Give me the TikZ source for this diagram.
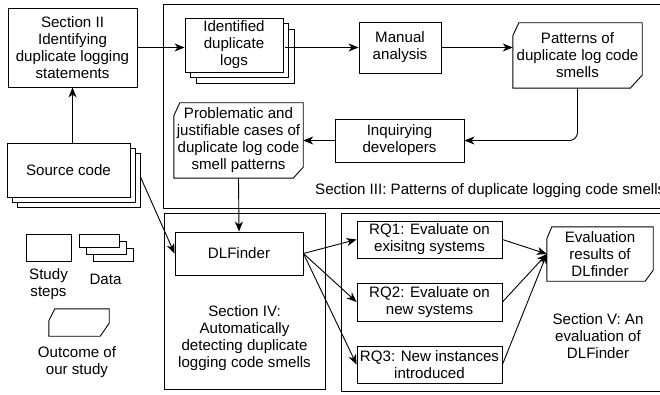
\documentclass[tikz,border=0pt]{standalone}
\usepackage{fontspec}
\setmainfont{Liberation Sans}
\usetikzlibrary{arrows.meta,shadows}
\newcommand\chbox[5]{\draw[line] ([yshift=-#3]#1.north west) -- ([xshift=#2]#1.north west) -- (#1.north east) -- ([yshift=#5]#1.south east) -- ([xshift=-#4]#1.south east) -- (#1.south west) -- cycle;}
\begin{document}
\begin{tikzpicture}[x=1pt,y=-1pt,
  every node/.style={font=\fontsize{15.1pt}{17pt}\selectfont, align=center, inner sep=0pt},
  line/.style={draw=black, line width=0.9pt},
  box/.style={line, fill=white, rectangle},
  stacktwo/.style={box, copy shadow={shadow xshift=2*#1, shadow yshift=-2*#1}, copy shadow={shadow xshift=#1, shadow yshift=-#1}},
  plain/.style={rectangle, draw=none},
  arr/.style={line, -{Stealth[length=10pt,width=8pt,inset=3pt]}},
  ]
\path[use as bounding box] (0,0) rectangle (660,395);
\clip (0,0) rectangle (660,395);

% containers
\node[box, minimum width=517pt, minimum height=204pt] (s3) at (421.5,106) {};
\node[box, minimum width=161pt, minimum height=176pt] (s4) at (244.5,301) {};
\node[box, minimum width=339pt, minimum height=178pt] (s5) at (510.5,302) {};

% container labels
\node[anchor=base west] (s3lab) at (315,195) {Section III: Patterns of duplicate logging code smells};
\node (s4lab) at (244.5,338) {Section IV:\\Automatically\\detecting duplicate\\logging code smells};
\node (s5lab) at (598,336.5) {Section V: An\\evaluation of\\DLFinder};

% main nodes
\node[box, minimum width=129pt, minimum height=79pt] (sec2) at (72.5,47.5) {Section II\\Identifying\\duplicate logging\\statements};
\node[stacktwo=5.5pt, minimum width=98pt, minimum height=54pt] (ident) at (234,45) {Identified\\duplicate\\logs};
\node[box, minimum width=82pt, minimum height=51pt] (manual) at (400,47.5) {Manual\\analysis};
\node[plain, minimum width=129pt, minimum height=65pt] (patt) at (577.5,55.5) {Patterns of\\duplicate log code\\smells};
\chbox{patt}{6pt}{13pt}{12pt}{13pt}
\node[box, minimum width=129pt, minimum height=43pt] (inq) at (399.5,140.5) {Inquirying\\developers};
\node[plain, minimum width=129pt, minimum height=75pt] (prob) at (238.5,140.5) {Problematic and\\justifiable cases of\\duplicate log code\\smell patterns};
\chbox{prob}{6pt}{13pt}{10pt}{11pt}
\node[stacktwo=5pt, minimum width=123pt, minimum height=54pt] (src) at (68.5,170) {Source code};
\node[box, minimum width=128pt, minimum height=43pt] (dlf) at (239,253.5) {DLFinder};
\node[box, minimum width=145pt, minimum height=37pt] (rq1) at (429.5,239.5) {RQ1: Evaluate on\\exisitng systems};
\node[box, minimum width=145pt, minimum height=38pt] (rq2) at (429.5,302) {RQ2: Evaluate on\\new systems};
\node[box, minimum width=145pt, minimum height=37pt] (rq3) at (429.5,364.5) {RQ3: New instances\\introduced};
\node[plain, minimum width=106pt, minimum height=54pt] (evalr) at (600,254) {Evaluation\\results of\\DLfinder};
\chbox{evalr}{5pt}{12pt}{8pt}{11pt}

% legend
\node[box, minimum width=45pt, minimum height=27pt] (lsteps) at (48.5,247.5) {};
\node[stacktwo=7pt, minimum width=40pt, minimum height=13pt] (ldata) at (99,240.5) {};
\node[plain, minimum width=60pt, minimum height=27pt] (lout) at (79,322.5) {};
\chbox{lout}{6pt}{12pt}{9pt}{13pt}
\node (lstepstxt) at (48.5,284) {Study\\steps};
\node (ldatatxt) at (105.5,279) {Data};
\node (louttxt) at (77,362) {Outcome of\\our study};

% connectors
\draw[arr] (src.north -| sec2.south) -- (sec2.south);
\draw[arr] (sec2.east) -- (sec2.east -| ident.west);
\draw[arr] ([xshift=2pt]manual.west -| ident.east) -- (manual.west);
\draw[arr] (manual.east) -- (manual.east -| patt.west);
\draw[arr, rounded corners=8pt] (patt.south) |- (inq.east);
\draw[arr] (inq.west) -- (prob.east);
\draw[arr] (prob.south) -- (dlf.north);
\draw[arr] ([xshift=10pt,yshift=-7pt]src.east) -- (dlf.west);
\draw[arr] (dlf.east) -- (rq1.west);
\draw[arr] (dlf.east) -- (rq2.west);
\draw[arr] (dlf.east) -- (rq3.west);
\draw[arr] (rq1.east) -- (evalr.west);
\draw[arr] (rq2.east) -- (evalr.west);
\draw[arr] (rq3.east) -- (evalr.west);
\end{tikzpicture}
\end{document}
